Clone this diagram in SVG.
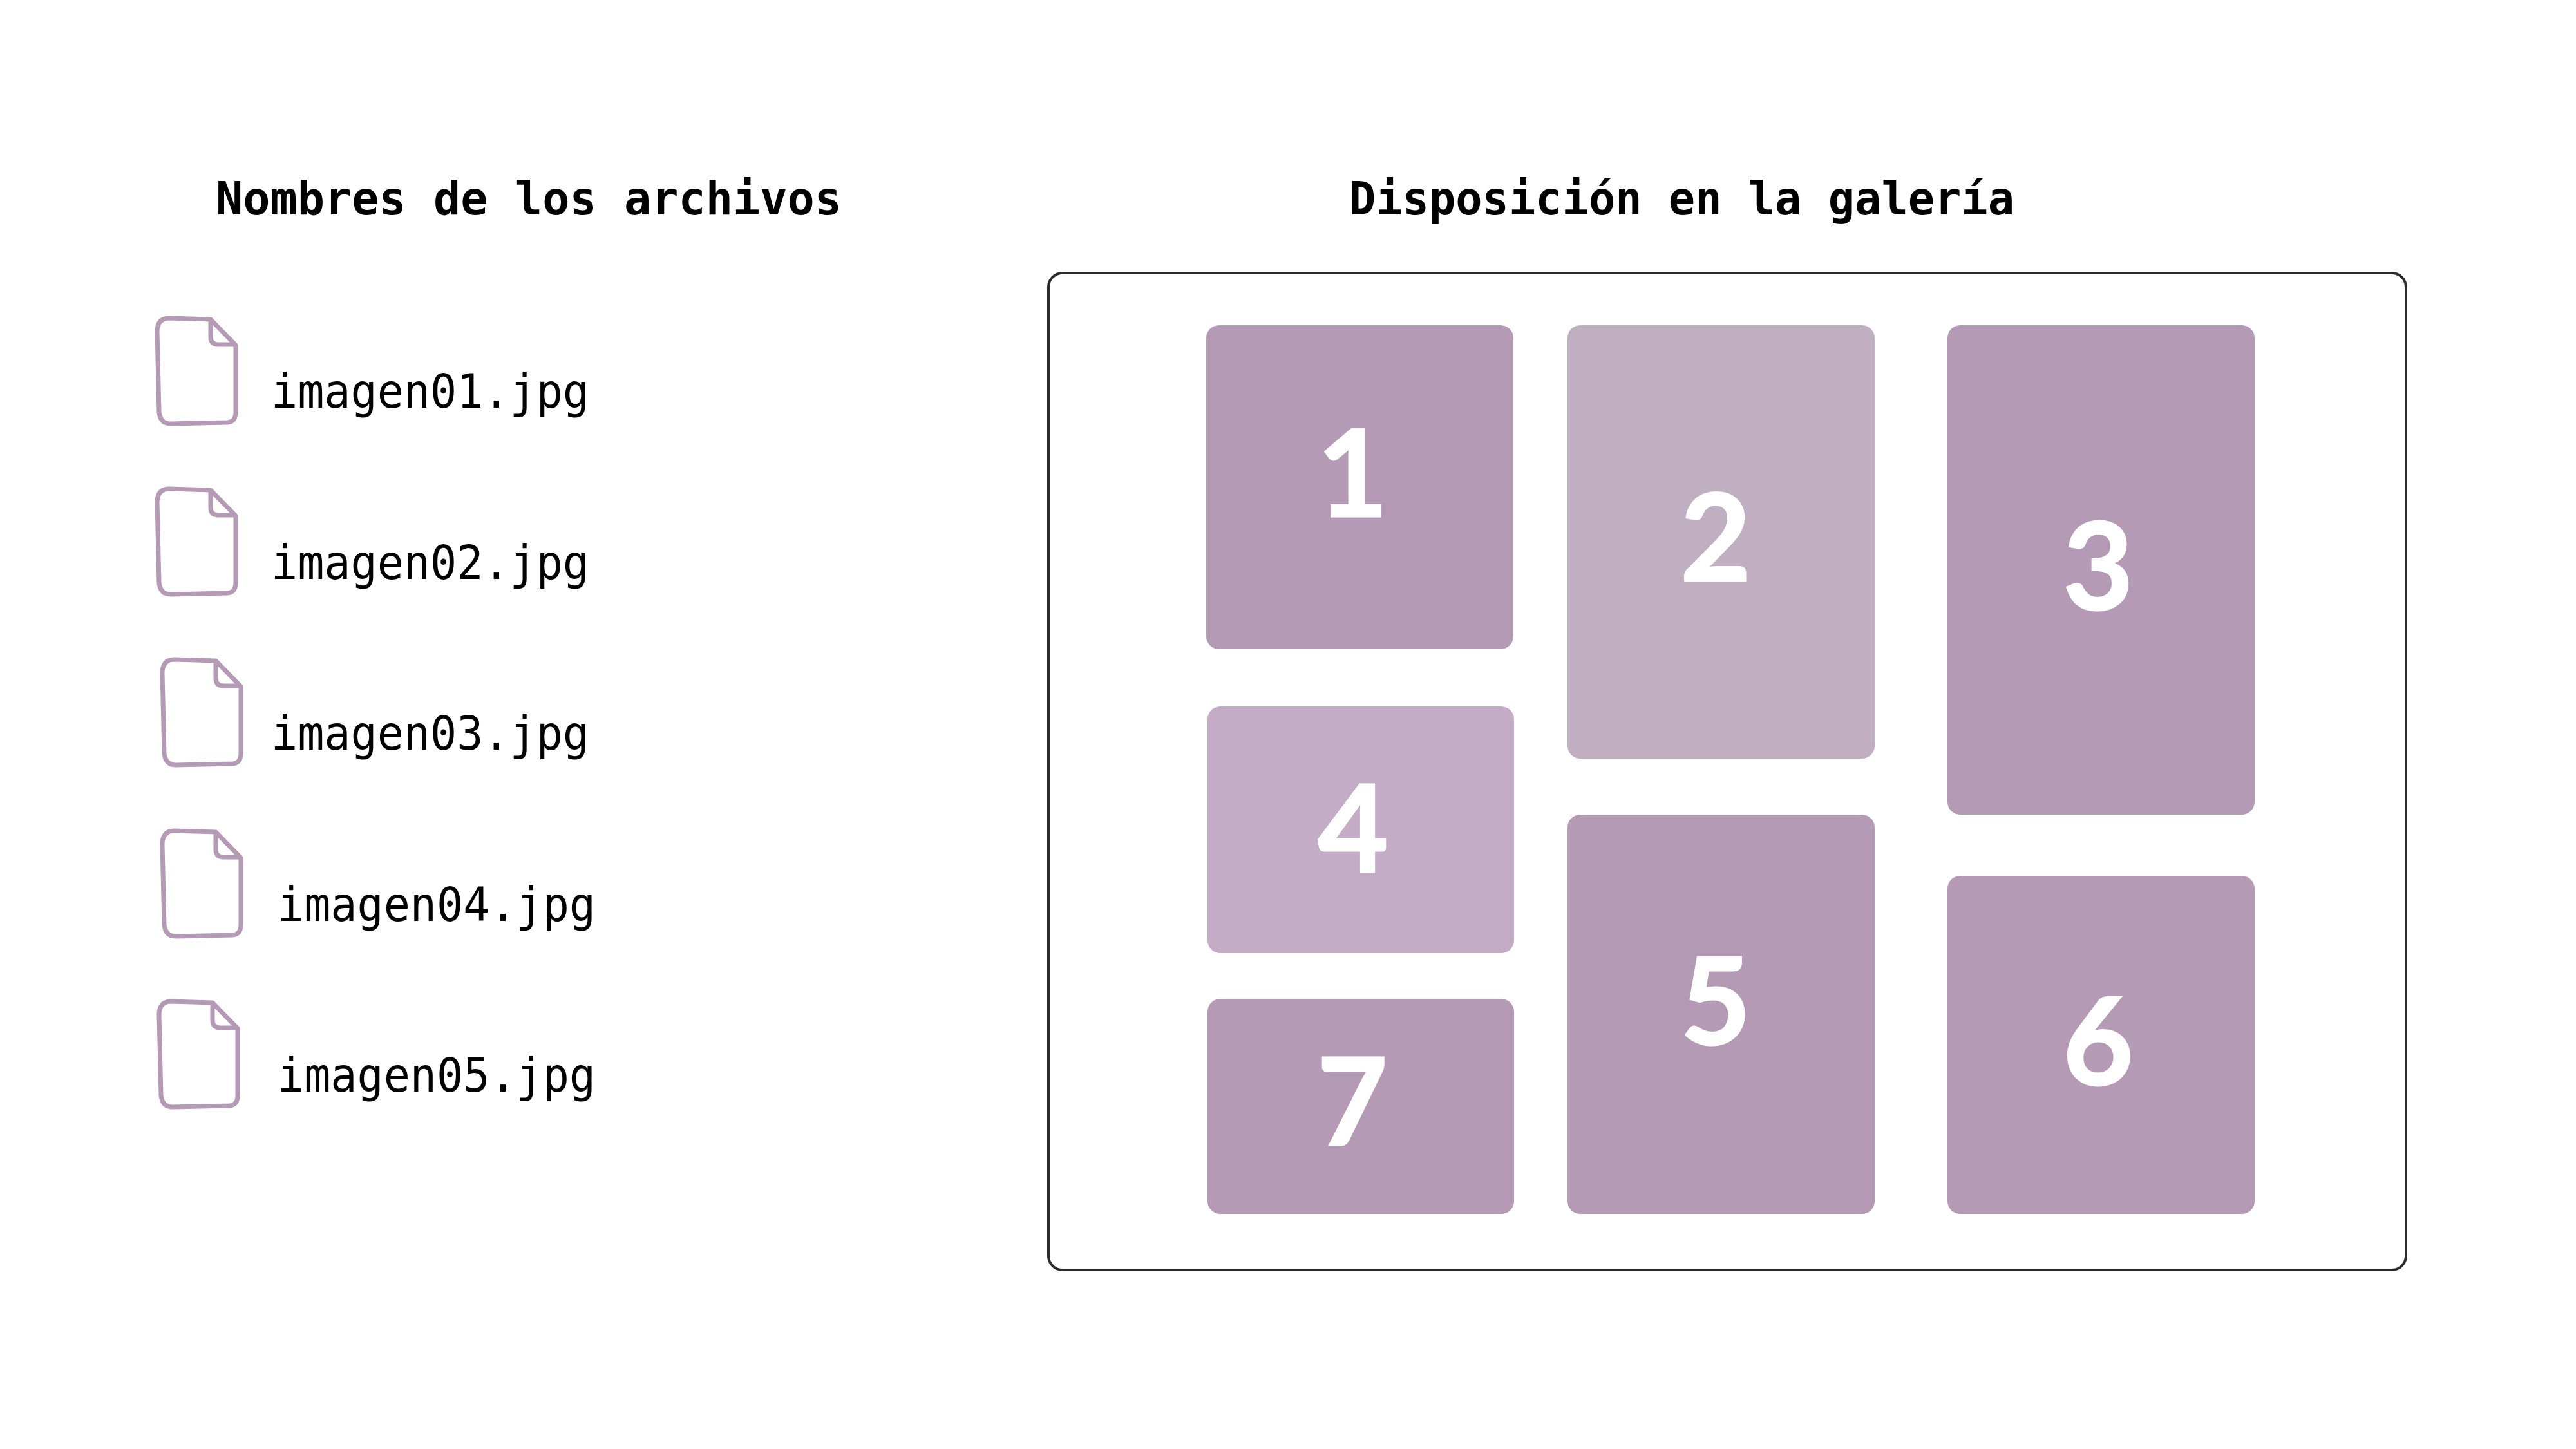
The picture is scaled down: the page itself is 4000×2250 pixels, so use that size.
<svg xmlns="http://www.w3.org/2000/svg" width="4000" height="2250" viewBox="0 0 4000 2250">
<style>
.h{font-family:"DejaVu Sans Mono",monospace;font-weight:700;font-size:72px;fill:#000}
.f{font-family:"DejaVu Sans Mono",monospace;font-size:73px;fill:#000}
.n{font-family:Lato,"Liberation Sans",sans-serif;font-weight:700;font-size:188px;fill:#fff;stroke:#fff;stroke-width:3;text-anchor:middle}
.t{fill:#b49ab5}
.i{fill:none;stroke:#b49ab5;stroke-width:7;stroke-linejoin:round}
</style>
<defs>
<g id="doc"><path class="i" d="M43 24L107 26L146 66L146 170Q146 185 133 186L45 188Q29 188 27 170L24 45Q24 24 43 24ZM107 26L107 53Q107 65 119 65L146 65"/></g>
</defs>
<rect width="4000" height="2250" fill="#fff"/>
<text class="h" x="335" y="333" textLength="972" lengthAdjust="spacingAndGlyphs">Nombres de los archivos</text>
<text class="h" x="2095" y="333" textLength="1033" lengthAdjust="spacingAndGlyphs">Disposición en la galería</text>
<g id="file1"><use href="#doc" x="220" y="470"/><text class="f" x="421" y="633" textLength="494" lengthAdjust="spacingAndGlyphs">imagen01.jpg</text></g>
<g id="file2"><use href="#doc" x="220" y="735"/><text class="f" x="421" y="899" textLength="494" lengthAdjust="spacingAndGlyphs">imagen02.jpg</text></g>
<g id="file3"><use href="#doc" x="228" y="1000"/><text class="f" x="421" y="1164" textLength="494" lengthAdjust="spacingAndGlyphs">imagen03.jpg</text></g>
<g id="file4"><use href="#doc" x="228" y="1266"/><text class="f" x="431" y="1430" textLength="494" lengthAdjust="spacingAndGlyphs">imagen04.jpg</text></g>
<g id="file5"><use href="#doc" x="223" y="1531"/><text class="f" x="431" y="1695" textLength="494" lengthAdjust="spacingAndGlyphs">imagen05.jpg</text></g>
<g id="frame"><rect x="1628" y="424" width="2108" height="1548" rx="22" fill="#fff" stroke="#2b2b2b" stroke-width="4"/></g>
<g id="tile1"><rect class="t" x="1873" y="505" width="477" height="503" rx="20"/><text class="n" x="2100" y="802">1</text></g>
<g id="tile2"><rect x="2434" y="505" width="477" height="673" rx="20" fill="#c0aec1"/><text class="n" x="2664" y="902">2</text></g>
<g id="tile3"><rect class="t" x="3024" y="505" width="477" height="760" rx="20"/><text class="n" x="3258" y="947">3</text></g>
<g id="tile4"><rect x="1875" y="1097" width="476" height="383" rx="20" fill="#c4abc6"/><text class="n" x="2101" y="1354">4</text></g>
<g id="tile5"><rect class="t" x="2434" y="1265" width="477" height="620" rx="20"/><text class="n" x="2664" y="1622">5</text></g>
<g id="tile6"><rect class="t" x="3024" y="1360" width="477" height="525" rx="20"/><text class="n" x="3258" y="1685">6</text></g>
<g id="tile7"><rect class="t" x="1875" y="1551" width="476" height="334" rx="20"/><text class="n" x="2100" y="1778">7</text></g>
</svg>
